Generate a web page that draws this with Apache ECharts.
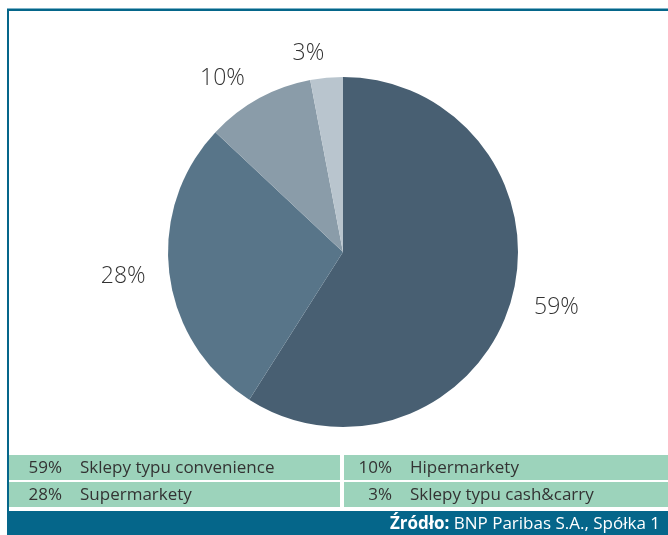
<!DOCTYPE html>
<html><head><meta charset="utf-8">
<script src="https://cdn.jsdelivr.net/npm/echarts@6/dist/echarts.min.js"></script>
<style>html,body{margin:0;padding:0;background:#fff}#c{width:668px;height:535px}</style>
</head><body><div id="c"></div>
<script>
const categories = ['Sklepy typu convenience','Supermarkety','Hipermarkety','Sklepy typu cash&carry'];
const values = [59, 28, 10, 3];
const sliceColors = ['#485f72','#587589','#8a9ca9','#b9c5ce'];
const legendOrder = [[0,2],[1,3]];
const sourceBold = 'Źródło:';
const sourceText = ' BNP Paribas S.A., Spółka 1';

const chart = echarts.init(document.getElementById('c'));
const FONT = '"Open Sans", "Noto Sans", sans-serif';
const legendGreen = '#9cd3bb';
const teal = '#05668a';

const graphics = [];
graphics.push({type:'rect', shape:{x:7,y:8,width:661,height:1}, style:{fill:'#7fb4c8'}, silent:true});
graphics.push({type:'rect', shape:{x:7,y:9,width:661,height:2}, style:{fill:teal}, silent:true});
graphics.push({type:'rect', shape:{x:7,y:9,width:2,height:526}, style:{fill:teal}, silent:true});
const rowY = [455, 482];
const rowH = 25;
legendOrder.forEach((row, r) => {
  row.forEach((idx, c) => {
    const x0 = c === 0 ? 9 : 344;
    const w = c === 0 ? 331 : 324;
    graphics.push({type:'rect', shape:{x:x0,y:rowY[r],width:w,height:rowH}, style:{fill:legendGreen}, silent:true});
    const pctRight = c === 0 ? 62 : 392;
    graphics.push({type:'text', x:pctRight, y:rowY[r]+rowH/2+1,
      style:{text: values[idx]+'%', fill:'#333', font:'17px '+FONT, textAlign:'right', textVerticalAlign:'middle'}, silent:true});
    graphics.push({type:'text', x:pctRight+18, y:rowY[r]+rowH/2+1,
      style:{text: categories[idx], fill:'#333', font:'17px '+FONT, textAlign:'left', textVerticalAlign:'middle'}, silent:true});
  });
});
graphics.push({type:'rect', shape:{x:9,y:511,width:659,height:24}, style:{fill:teal}, silent:true});
graphics.push({type:'text', x:660, y:524,
  style:{rich:{b:{fontWeight:'bold', fontSize:17, fill:'#fff', fontFamily:FONT}, n:{fontSize:17, fill:'#fff', fontFamily:FONT}},
    text:'{b|'+sourceBold+'}{n|'+sourceText+'}', textAlign:'right', textVerticalAlign:'middle'}, silent:true});

chart.setOption({
  animation:false,
  color: sliceColors,
  graphic: graphics,
  series:[{
    type:'pie',
    center:[343,252],
    radius:[0,175],
    startAngle:90,
    clockwise:true,
    data: categories.map((n,i)=>({name:n, value:values[i]})),
    label:{show:true, position:'outside', formatter:'{c}%', fontSize:23, color:'#333', fontFamily:FONT, fontWeight:300, align:'center', verticalAlign:'middle', distanceToLabelLine:0},
    labelLine:{show:false, length:24, length2:0},
    emphasis:{disabled:true}
  }]
});
</script></body></html>
